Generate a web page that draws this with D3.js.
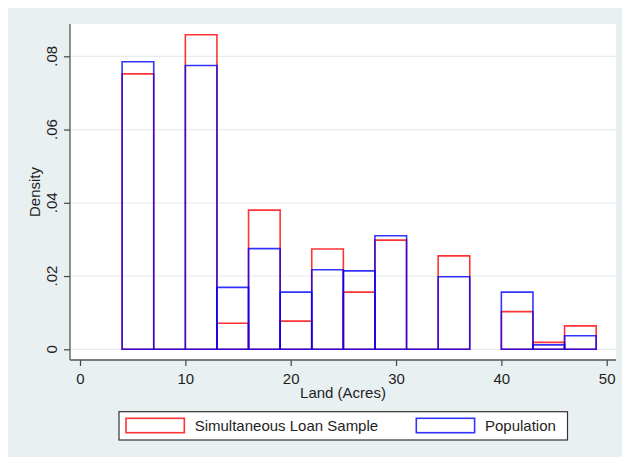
<!DOCTYPE html>
<html>
<head>
<meta charset="utf-8">
<script src="https://cdn.jsdelivr.net/npm/d3@7"></script>
<style>
  html, body { margin: 0; padding: 0; background: #ffffff; }
  svg { display: block; }
  text { font-family: "Liberation Sans", Arial, sans-serif; fill: #1e1e1e; }
</style>
</head>
<body>
<svg id="chart" width="622" height="457"></svg>
<script>
// Histogram bins: left edge of each 3-acre bin
const binStart = [4, 7, 10, 13, 16, 19, 22, 25, 28, 31, 34, 40, 43, 46];
const binWidth = 3;
// Density per bin
const loanDensity = [0.0752, 0, 0.0859, 0.0071, 0.0380, 0.0077, 0.0274, 0.0156, 0.0298, 0, 0.0255, 0.0103, 0.0019, 0.0064];
const popDensity  = [0.0785, 0, 0.0775, 0.0169, 0.0275, 0.0156, 0.0217, 0.0214, 0.0310, 0, 0.0198, 0.0156, 0.0012, 0.0037];
const xTicks = [0, 10, 20, 30, 40, 50];
const yTicks = [0, 0.02, 0.04, 0.06, 0.08];
const yTickLabels = ["0", ".02", ".04", ".06", ".08"];
const seriesNames = ["Simultaneous Loan Sample", "Population"];
const seriesColors = ["#ff0000", "#0000ff"];

const svg = d3.select("#chart");

// graph background
svg.append("rect").attr("x", 8).attr("y", 8).attr("width", 614).attr("height", 449).attr("fill", "#e9f0f2");

// plot region
const plot = { left: 70, right: 616, top: 24, bottom: 360 };
svg.append("rect")
  .attr("x", plot.left).attr("y", plot.top)
  .attr("width", plot.right - plot.left).attr("height", plot.bottom - plot.top)
  .attr("fill", "#ffffff");

const x = d3.scaleLinear().domain([0, 50]).range([80, 606.7]);
const y = d3.scaleLinear().domain([0, 0.08]).range([349.3, 56.3]);

// gridlines
svg.append("g").selectAll("line").data(yTicks).join("line")
  .attr("x1", plot.left).attr("x2", plot.right)
  .attr("y1", d => y(d)).attr("y2", d => y(d))
  .attr("stroke", "#e6eef0").attr("stroke-width", 1.3);

// bars
function barPath(start, v) {
  const x0 = x(start), x1 = x(start + binWidth), yb = y(0), yt = y(v);
  return `M${x0},${yb}V${yt}H${x1}V${yb}Z`;
}
const seriesData = [loanDensity, popDensity];
seriesData.forEach((vals, si) => {
  svg.append("g").selectAll("path").data(binStart).join("path")
    .attr("d", (s, i) => barPath(s, vals[i]))
    .attr("fill", "none")
    .attr("stroke", seriesColors[si])
    .attr("stroke-opacity", 0.8)
    .attr("stroke-width", 1.6);
});

// y axis
const yAxis = d3.axisLeft(y).tickValues(yTicks).tickSize(6).tickFormat((d, i) => yTickLabels[i]);
const gy = svg.append("g").attr("transform", `translate(${plot.left},0)`).call(yAxis);
gy.select(".domain").remove();
gy.selectAll(".tick line").attr("stroke", "#444").attr("stroke-width", 1.2);
gy.selectAll(".tick text").remove();
svg.append("line").attr("x1", plot.left).attr("x2", plot.left).attr("y1", plot.top).attr("y2", plot.bottom)
  .attr("stroke", "#555").attr("stroke-width", 1.3);
svg.append("g").selectAll("text").data(yTicks).join("text")
  .attr("transform", d => `translate(57,${y(d)}) rotate(-90)`)
  .attr("text-anchor", "middle")
  .attr("font-size", 15)
  .text((d, i) => yTickLabels[i]);

// x axis
const xAxis = d3.axisBottom(x).tickValues(xTicks).tickSize(6).tickFormat(d3.format("d"));
const gx = svg.append("g").attr("transform", `translate(0,${plot.bottom})`).call(xAxis);
gx.select(".domain").remove();
gx.selectAll(".tick line").attr("stroke", "#444").attr("stroke-width", 1.2);
gx.selectAll(".tick text").attr("y", 24).attr("dy", 0).attr("font-size", 15)
  .attr("font-family", "Liberation Sans, Arial, sans-serif").attr("fill", "#1e1e1e");
svg.append("line").attr("x1", plot.left).attr("x2", plot.right).attr("y1", plot.bottom).attr("y2", plot.bottom)
  .attr("stroke", "#555").attr("stroke-width", 1.3);

// axis titles
svg.append("text").attr("x", (plot.left + plot.right) / 2).attr("y", 398)
  .attr("text-anchor", "middle").attr("font-size", 15).text("Land (Acres)");
svg.append("text").attr("transform", `translate(40,${(plot.top + plot.bottom) / 2}) rotate(-90)`)
  .attr("text-anchor", "middle").attr("font-size", 15).text("Density");

// legend
const leg = svg.append("g");
leg.append("rect").attr("x", 119).attr("y", 411.7).attr("width", 448.5).attr("height", 28.3)
  .attr("fill", "#ffffff").attr("stroke", "#333").attr("stroke-width", 1.2);
const legX = [126, 416.3];
seriesNames.forEach((name, i) => {
  leg.append("rect").attr("x", legX[i]).attr("y", 418.3).attr("width", 58.3).attr("height", 14.4)
    .attr("fill", "none").attr("stroke", seriesColors[i]).attr("stroke-opacity", 0.8).attr("stroke-width", 1.6);
  leg.append("text").attr("x", legX[i] + 68.7).attr("y", 431).attr("font-size", 15).text(name);
});
</script>
</body>
</html>
